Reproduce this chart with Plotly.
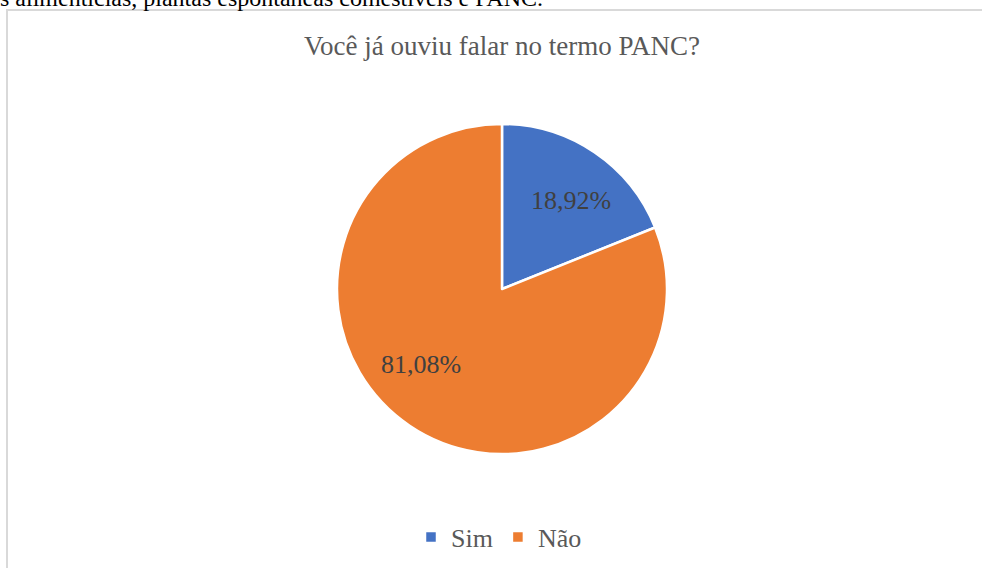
import plotly.graph_objects as go

labels = ["Sim", "Não"]
values = [18.92, 81.08]
text_labels = ["18,92%", "81,08%"]
colors = ["#4472C4", "#ED7D31"]

W, H = 982, 568
cx, cy, r = 502, 289, 165
SERIF = "Liberation Serif, Times New Roman, Times, serif"

# label anchor positions (pixels), layout only
label_px = [(571, 200), (421, 364)]

fig = go.Figure(go.Pie(
    labels=labels,
    values=values,
    textinfo="none",
    sort=False,
    direction="clockwise",
    rotation=0,
    marker=dict(colors=colors, line=dict(color="white", width=2.5)),
    domain=dict(x=[(cx - r) / W, (cx + r) / W], y=[1 - (cy + r) / H, 1 - (cy - r) / H]),
    hoverinfo="label+percent",
))

annotations = [
    dict(text="Você já ouviu falar no termo PANC?", xref="paper", yref="paper",
         x=cx / W, y=1 - 46 / H, xanchor="center", yanchor="middle", showarrow=False,
         font=dict(family=SERIF, size=27, color="#595959")),
    dict(text="s alimentícias, plantas espontâneas comestíveis e PANC.", xref="paper", yref="paper",
         x=-0.002, y=1 + 2 / H, xanchor="left", yanchor="middle", showarrow=False,
         font=dict(family=SERIF, size=24, color="black")),
]
for t, (px, py) in zip(text_labels, label_px):
    annotations.append(dict(text=t, xref="paper", yref="paper", x=px / W, y=1 - py / H,
                            xanchor="center", yanchor="middle", showarrow=False,
                            font=dict(family=SERIF, size=26, color="#404040")))

fig.update_layout(
    width=W, height=H,
    margin=dict(l=0, r=0, t=0, b=0),
    paper_bgcolor="white",
    plot_bgcolor="white",
    showlegend=True,
    legend=dict(
        orientation="h",
        x=(cx - 3) / W, xanchor="center",
        y=1 - 537 / H, yanchor="middle",
        font=dict(family=SERIF, size=26, color="#595959"),
        traceorder="normal",
        itemwidth=30,
    ),
    font=dict(family=SERIF),
    annotations=annotations,
    shapes=[
        dict(type="rect", xref="paper", yref="paper",
             x0=7 / W, x1=1.02, y0=-0.02, y1=1 - 10 / H,
             line=dict(color="#d9d9d9", width=2), fillcolor="rgba(0,0,0,0)", layer="below"),
    ],
)

fig.write_html("out.html", config={"displayModeBar": False},
               post_script="document.body.style.margin='0';document.body.style.padding='0';")
